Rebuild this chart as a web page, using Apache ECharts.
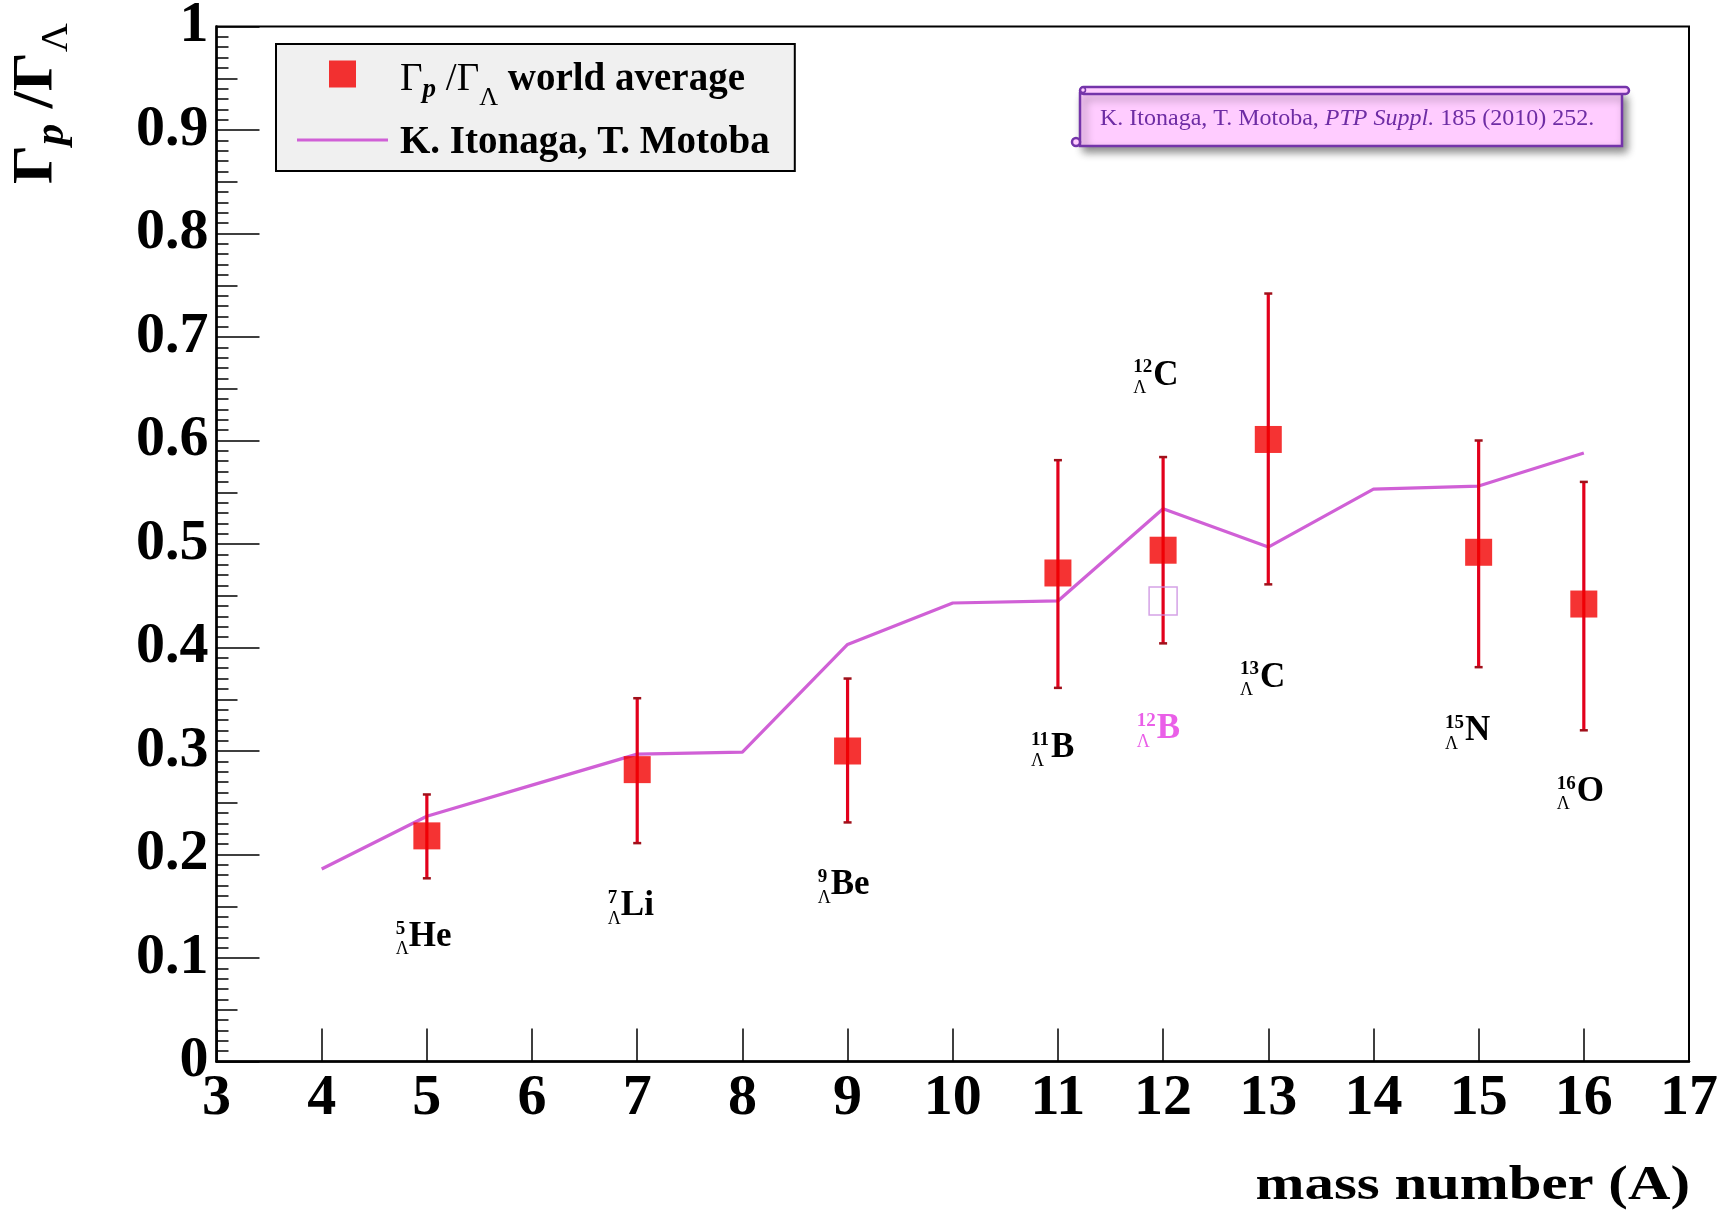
<!DOCTYPE html>
<html>
<head>
<meta charset="utf-8">
<title>Γp/ΓΛ vs mass number</title>
<script src="https://cdn.jsdelivr.net/npm/echarts@6/dist/echarts.min.js"></script>
<style>
  html, body { margin: 0; padding: 0; background: #ffffff; }
  #chart { width: 1732px; height: 1213px; }
</style>
</head>
<body>
<div id="chart"></div>
<script>
// World-average Γp/ΓΛ ratios with asymmetric error limits
const massNumbers = [5, 7, 9, 11, 12, 13, 15, 16];
const ratioValues = [0.218, 0.282, 0.300, 0.472, 0.494, 0.601, 0.492, 0.442];
const ratioLow    = [0.177, 0.211, 0.231, 0.361, 0.404, 0.461, 0.381, 0.320];
const ratioHigh   = [0.258, 0.351, 0.370, 0.581, 0.584, 0.742, 0.600, 0.560];

// Open marker (12ΛB)
const openMass  = [12];
const openValue = [0.445];

// K. Itonaga, T. Motoba calculation
const theoryMass  = [4, 5, 6, 7, 8, 9, 10, 11, 12, 13, 14, 15, 16];
const theoryValue = [0.186, 0.237, 0.267, 0.297, 0.299, 0.403, 0.443, 0.445, 0.534, 0.497, 0.553, 0.556, 0.588];

// Hypernucleus annotations: mass number, element, anchor in data units
const nuclideMass    = ['5', '7', '9', '11', '12', '12', '13', '15', '16'];
const nuclideElement = ['He', 'Li', 'Be', 'B', 'B', 'C', 'C', 'N', 'O'];
const nuclideAnchorX = [4.827, 6.844, 8.84, 10.935, 11.939, 11.906, 12.921, 14.870, 15.932];
const nuclideAnchorY = [0.1206, 0.1504, 0.1707, 0.303, 0.3213, 0.6628, 0.371, 0.3193, 0.2607];

// Axis tick settings
const xTicks = { min: 3, max: 17, step: 1 };
const yTicks = { min: 0, max: 1, step: 0.1 };

const SERIF = '"Liberation Serif", "Times New Roman", serif';
const RED = '#f20000';
const BAR_RED = '#e3001c';
const THEORY = '#d060d6';
const PINK_LABEL = '#ea5fe8';

const chart = echarts.init(document.getElementById('chart'), null, { renderer: 'canvas' });

function errorBar(params, api) {
  const x = api.value(0);
  const top = api.coord([x, api.value(2)]);
  const bot = api.coord([x, api.value(1)]);
  const cap = 4;
  return {
    type: 'group',
    children: [
      { type: 'line', shape: { x1: top[0], y1: top[1], x2: bot[0], y2: bot[1] },
        style: { stroke: BAR_RED, lineWidth: 3.2 } },
      { type: 'line', shape: { x1: top[0] - cap, y1: top[1], x2: top[0] + cap, y2: top[1] },
        style: { stroke: '#a0101a', lineWidth: 2.5 } },
      { type: 'line', shape: { x1: bot[0] - cap, y1: bot[1], x2: bot[0] + cap, y2: bot[1] },
        style: { stroke: '#a0101a', lineWidth: 2.5 } }
    ]
  };
}

function nuclideLabel(params, api) {
  const i = params.dataIndex;
  const p = api.coord([api.value(0), api.value(1)]);
  const mass = nuclideMass[i];
  const color = (mass + nuclideElement[i]) === '12B' ? PINK_LABEL : '#000000';
  const prefix = mass.length > 1 ? 20 : 13;
  return {
    type: 'group',
    children: [
      { type: 'text', x: p[0], y: p[1],
        style: { text: nuclideElement[i], fontFamily: SERIF, fontSize: 35, fontWeight: 'bold',
                 fill: color, align: 'left', verticalAlign: 'middle' } },
      { type: 'text', x: p[0] - prefix, y: p[1] - 8,
        style: { text: mass, fontFamily: SERIF, fontSize: 19, fontWeight: 'bold',
                 fill: color, align: 'left', verticalAlign: 'middle' } },
      { type: 'text', x: p[0] - prefix, y: p[1] + 13,
        style: { text: 'Λ', fontFamily: SERIF, fontSize: 18, fontWeight: 'normal',
                 fill: color, align: 'left', verticalAlign: 'middle' } }
    ]
  };
}

const option = {
  backgroundColor: '#ffffff',
  animation: false,
  grid: {
    left: 216.5, right: 43, top: 26.5, bottom: 151.5,
    show: true, borderColor: '#000000', borderWidth: 2,
    backgroundColor: 'transparent',
    outerBoundsMode: 'none'
  },
  legend: {
    orient: 'vertical',
    left: 276, top: 44,
    backgroundColor: '#f0f0f0',
    borderColor: '#000000', borderWidth: 2,
    padding: [8, 25, 9, 21],
    itemWidth: 91, itemHeight: 27, itemGap: 7,
    selectedMode: false,
    data: [
      { name: 'world average', icon: 'path://M0,0h10v10h-10z' },
      { name: 'Itonaga-Motoba', icon: 'path://M0,0h91v3h-91z' }
    ],
    formatter: function (name) {
      if (name === 'world average') {
        return '{g0|Γ}{p|p}{g| /Γ}{l|Λ}{b| world average}';
      }
      return '{b0|K. Itonaga, T. Motoba}';
    },
    textStyle: {
      fontFamily: SERIF, fontSize: 39, fontWeight: 'bold', color: '#000000',
      rich: {
        // every run is top-aligned; the top padding sets its baseline in the row
        g0: { fontFamily: SERIF, fontSize: 39, fontWeight: 'normal', lineHeight: 44, verticalAlign: 'top', padding: [8, 0, 0, 7] },
        g:  { fontFamily: SERIF, fontSize: 39, fontWeight: 'normal', lineHeight: 44, verticalAlign: 'top', padding: [8, 0, 0, 0] },
        p:  { fontFamily: SERIF, fontSize: 27, fontWeight: 'bold', fontStyle: 'italic', lineHeight: 44, verticalAlign: 'top', padding: [25, 0, 0, 0] },
        l:  { fontFamily: SERIF, fontSize: 26, fontWeight: 'normal', lineHeight: 44, verticalAlign: 'top', padding: [33, 0, 0, 0] },
        b:  { fontFamily: SERIF, fontSize: 39, fontWeight: 'bold', lineHeight: 44, verticalAlign: 'top', padding: [8, 0, 0, 0] },
        b0: { fontFamily: SERIF, fontSize: 39, fontWeight: 'bold', lineHeight: 44, verticalAlign: 'top', padding: [5, 0, 0, 7] }
      }
    }
  },
  xAxis: {
    type: 'value',
    min: xTicks.min, max: xTicks.max, interval: xTicks.step,
    axisLine: { show: true, onZero: false, lineStyle: { color: '#000000', width: 2.5 } },
    axisTick: { show: true, inside: true, length: 33, lineStyle: { color: '#000000', width: 1.5 } },
    axisLabel: { show: true, margin: 9, color: '#000000', fontFamily: SERIF, fontSize: 58, fontWeight: 'bold',
                 showMinLabel: true, showMaxLabel: true },
    splitLine: { show: false }
  },
  yAxis: [
    {
      type: 'value',
      min: yTicks.min, max: yTicks.max, interval: yTicks.step,
      axisLine: { show: true, onZero: false, lineStyle: { color: '#000000', width: 2.5 } },
      axisTick: { show: true, inside: true, length: 43, lineStyle: { color: '#000000', width: 1.5 } },
      minorTick: { show: true, splitNumber: 10, length: 12, lineStyle: { color: '#000000', width: 1.5 } },
      axisLabel: {
        show: true, margin: 8, color: '#000000', fontFamily: SERIF, fontSize: 58, fontWeight: 'bold',
        showMinLabel: true, showMaxLabel: true,
        formatter: function (v) { return String(Math.round(v * 10) / 10); }
      },
      splitLine: { show: false }
    },
    {
      type: 'value', position: 'left',
      min: yTicks.min, max: yTicks.max, interval: yTicks.step / 2,
      axisLine: { show: false },
      axisTick: { show: true, inside: true, length: 21, lineStyle: { color: '#000000', width: 1.5 } },
      axisLabel: { show: false },
      splitLine: { show: false }
    }
  ],
  series: [
    {
      name: 'Itonaga-Motoba',
      type: 'line',
      data: theoryMass.map((m, i) => [m, theoryValue[i]]),
      symbol: 'none',
      lineStyle: { color: THEORY, width: 3.2 },
      itemStyle: { color: THEORY },
      z: 2,
      silent: true
    },
    {
      name: 'error',
      type: 'custom',
      data: massNumbers.map((m, i) => [m, ratioLow[i], ratioHigh[i]]),
      encode: { x: 0, y: [1, 2] },
      renderItem: errorBar,
      z: 3,
      silent: true
    },
    {
      name: 'open',
      type: 'scatter',
      data: openMass.map((m, i) => [m, openValue[i]]),
      symbol: 'rect',
      symbolSize: 28,
      itemStyle: { color: 'rgba(0,0,0,0)', borderColor: '#c98be0', borderWidth: 1.5 },
      z: 4,
      silent: true
    },
    {
      name: 'world average',
      type: 'scatter',
      data: massNumbers.map((m, i) => [m, ratioValues[i]]),
      symbol: 'rect',
      symbolSize: 27,
      itemStyle: { color: RED },
      z: 5,
      silent: true
    },
    {
      name: 'nuclides',
      type: 'custom',
      data: nuclideAnchorX.map((x, i) => [x, nuclideAnchorY[i]]),
      encode: { x: 0, y: 1 },
      renderItem: nuclideLabel,
      clip: false,
      z: 6,
      silent: true
    }
  ],
  graphic: [
    // y-axis title, reading bottom to top
    {
      type: 'text',
      x: 37, y: 23,
      rotation: Math.PI / 2,
      scaleX: 1.06,
      silent: true,
      style: {
        text: '{g|Γ}{p|p}{g| /Γ}{l|Λ}',
        align: 'right', verticalAlign: 'middle',
        fill: '#000000',
        rich: {
          g: { fontFamily: SERIF, fontSize: 58, fontWeight: 'bold', lineHeight: 60 },
          p: { fontFamily: SERIF, fontSize: 40, fontWeight: 'bold', fontStyle: 'italic', lineHeight: 60, verticalAlign: 'top', padding: [26, 0, 0, 0] },
          l: { fontFamily: SERIF, fontSize: 38, fontWeight: 'normal', lineHeight: 60, verticalAlign: 'top', padding: [31, 0, 0, 0] }
        }
      }
    },
    // x-axis title
    {
      type: 'text',
      x: 1690, y: 1186,
      scaleX: 1.2,
      silent: true,
      style: {
        text: 'mass number (A)',
        fontFamily: SERIF, fontSize: 49, fontWeight: 'bold',
        fill: '#000000', align: 'right', verticalAlign: 'middle'
      }
    },
    // reference scroll box
    {
      type: 'group',
      silent: true,
      children: [
        { type: 'rect', shape: { x: 1080, y: 93, width: 542, height: 53 },
          style: { fill: '#ffccff', stroke: '#7434aa', lineWidth: 2.5,
                   shadowColor: 'rgba(0,0,0,0.45)', shadowBlur: 8, shadowOffsetX: 4, shadowOffsetY: 5 } },
        { type: 'rect', shape: { x: 1080, y: 87, width: 549, height: 7, r: 3.5 },
          style: { fill: '#ffccff', stroke: '#7434aa', lineWidth: 2.5 } },
        { type: 'circle', shape: { cx: 1083, cy: 90, r: 2.5 },
          style: { fill: '#ffccff', stroke: '#7434aa', lineWidth: 1.5 } },
        { type: 'circle', shape: { cx: 1076, cy: 142, r: 4 },
          style: { fill: '#ffccff', stroke: '#7434aa', lineWidth: 2.5 } },
        { type: 'text', x: 1100, y: 119,
          style: {
            text: '{n|K. Itonaga, T. Motoba, }{i|PTP Suppl.}{n| 185 (2010) 252.}',
            align: 'left', verticalAlign: 'middle', fill: '#6e2ca4',
            rich: {
              n: { fontFamily: SERIF, fontSize: 24, fill: '#6e2ca4', color: '#6e2ca4' },
              i: { fontFamily: SERIF, fontSize: 24, fontStyle: 'italic', fill: '#6e2ca4', color: '#6e2ca4' }
            }
          } }
      ]
    }
  ]
};

chart.setOption(option);
</script>
</body>
</html>
